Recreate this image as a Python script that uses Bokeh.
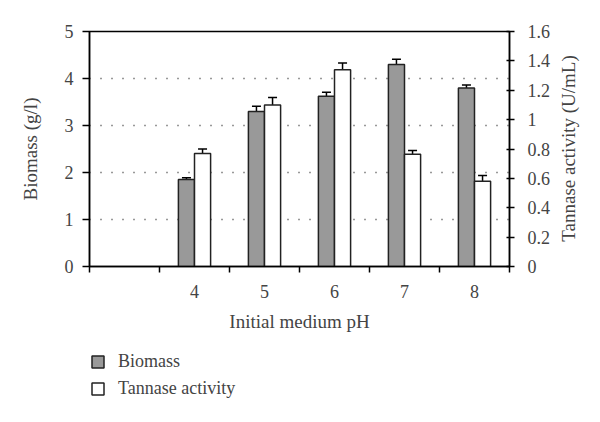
import math
from bokeh.plotting import figure
from bokeh.layouts import column
from bokeh.models import (Range1d, LinearAxis, FixedTicker, Whisker, TeeHead,
                          ColumnDataSource, Legend, LegendItem, Label)
from bokeh.embed import file_html
from bokeh.resources import INLINE

# ---- data ----
ph_labels = ["4", "5", "6", "7", "8"]
biomass = [1.85, 3.30, 3.62, 4.30, 3.80]
biomass_err = [0.04, 0.11, 0.09, 0.11, 0.06]
tannase = [0.77, 1.10, 1.34, 0.765, 0.58]
tannase_err = [0.03, 0.05, 0.045, 0.025, 0.04]
left_ticks = [0, 1, 2, 3, 4, 5]
right_ticks = [0, 0.2, 0.4, 0.6, 0.8, 1.0, 1.2, 1.4, 1.6]
right_tick_labels = ["0", "0.2", "0.4", "0.6", "0.8", "1", "1.2", "1.4", "1.6"]
series_names = ["Biomass", "Tannase activity"]
right_title = "Tannase activity (U/mL)"

FONT = "Liberation Serif"
BAR_W = 0.23
BIO_FILL = "#999999"
TAN_FILL = "white"
EDGE = "#222222"

# category positions: slot 0 is an empty category, pH values follow
pos = [i + 1 for i in range(len(ph_labels))]
src = ColumnDataSource(dict(
    xb=[p - BAR_W / 2 for p in pos],
    xt=[p + BAR_W / 2 for p in pos],
    bio=biomass,
    bio_lo=[v - e for v, e in zip(biomass, biomass_err)],
    bio_hi=[v + e for v, e in zip(biomass, biomass_err)],
    tan=tannase,
    tan_lo=[v - e for v, e in zip(tannase, tannase_err)],
    tan_hi=[v + e for v, e in zip(tannase, tannase_err)],
))

p = figure(width=584, height=340, output_backend="svg", toolbar_location=None,
           x_range=Range1d(-0.5, len(ph_labels) + 0.5), y_range=Range1d(0, 5),
           min_border_left=89, min_border_right=75, min_border_top=31,
           min_border_bottom=74)
p.extra_y_ranges = {"t": Range1d(0, 1.6)}
p.outline_line_color = "black"
p.outline_line_width = 1.5
p.background_fill_color = "white"
p.border_fill_color = "white"

# x axis
xa = p.xaxis[0]
xa.ticker = FixedTicker(ticks=pos, minor_ticks=[i - 0.5 for i in range(len(ph_labels) + 2)])
xa.major_label_overrides = {pp: lab for pp, lab in zip(pos, ph_labels)}
xa.major_tick_out = 0
xa.major_tick_in = 0
xa.minor_tick_out = 6
xa.minor_tick_in = 0
xa.minor_tick_line_color = "black"
xa.minor_tick_line_width = 1.5
xa.axis_line_width = 1.5
xa.axis_label = "Initial medium pH"
xa.axis_label_text_font = FONT
xa.axis_label_text_font_size = "19px"
xa.axis_label_text_font_style = "normal"
xa.axis_label_standoff = 10
xa.major_label_text_font = FONT
xa.major_label_text_font_size = "18px"
xa.major_label_standoff = 12

# left y axis
ya = p.yaxis[0]
ya.ticker = FixedTicker(ticks=left_ticks)
ya.minor_tick_line_color = None
ya.major_tick_out = 7
ya.major_tick_in = 0
ya.major_tick_line_width = 1.5
ya.axis_line_width = 1.5
ya.axis_label = "Biomass (g/l)"
ya.axis_label_text_font = FONT
ya.axis_label_text_font_size = "19px"
ya.axis_label_text_font_style = "normal"
ya.axis_label_standoff = 21
ya.major_label_text_font = FONT
ya.major_label_text_font_size = "18px"
ya.major_label_standoff = 9

# right y axis
ra = LinearAxis(y_range_name="t", ticker=FixedTicker(ticks=right_ticks))
ra.major_label_overrides = {t: lab for t, lab in zip(right_ticks, right_tick_labels)}
ra.minor_tick_line_color = None
ra.major_tick_out = 5
ra.major_tick_in = 3
ra.major_tick_line_width = 1.5
ra.axis_line_width = 1.5
ra.major_label_text_font = FONT
ra.major_label_text_font_size = "18px"
ra.major_label_standoff = 13
p.add_layout(ra, "right")

# right axis title, reading bottom-to-top (placed in the right side panel)
rlab = Label(text=right_title, x=15, y=118, x_units="screen", y_units="screen",
             angle=math.pi / 2, text_align="center", text_baseline="middle",
             text_font=FONT, text_font_size="19px", text_color="#444444")
p.add_layout(rlab, "right")

# grid
p.xgrid.grid_line_color = None
p.ygrid.ticker = FixedTicker(ticks=left_ticks[1:-1])
p.ygrid.grid_line_color = "#333333"
p.ygrid.grid_line_dash = "1 10"
p.ygrid.grid_line_width = 1.5

# bars
rb = p.vbar(x="xb", top="bio", width=BAR_W, bottom=0, source=src,
            fill_color=BIO_FILL, line_color=EDGE, line_width=1.5)
rt = p.vbar(x="xt", top="tan", width=BAR_W, bottom=0, source=src, y_range_name="t",
            fill_color=TAN_FILL, line_color=EDGE, line_width=1.5)

# error bars
def tee():
    return TeeHead(size=9, line_width=1.5, line_color="black")

wb = Whisker(base="xb", lower="bio_lo", upper="bio_hi", source=src,
             line_color="black", line_width=1.5, upper_head=tee(), lower_head=tee())
wt = Whisker(base="xt", lower="tan_lo", upper="tan_hi", source=src, y_range_name="t",
             line_color="black", line_width=1.5, upper_head=tee(), lower_head=tee())
p.add_layout(wb)
p.add_layout(wt)

# legend strip below the chart (same series, hidden; only the legend shows)
lg = figure(width=584, height=80, output_backend="svg", toolbar_location=None,
            x_range=Range1d(-100, -99), y_range=Range1d(-100, -99),
            x_axis_type=None, y_axis_type=None,
            min_border_left=0, min_border_right=0, min_border_top=0, min_border_bottom=0)
lg.outline_line_color = None
lg.background_fill_color = None
lg.border_fill_color = None
lg.xgrid.grid_line_color = None
lg.ygrid.grid_line_color = None
lb = lg.vbar(x="xb", top="bio", width=BAR_W, source=src,
             fill_color=BIO_FILL, line_color=EDGE, line_width=1.5)
lt = lg.vbar(x="xt", top="tan", width=BAR_W, source=src,
             fill_color=TAN_FILL, line_color=EDGE, line_width=1.5)
lb.visible = False
lt.visible = False
legend = Legend(items=[LegendItem(label=series_names[0], renderers=[lb]),
                       LegendItem(label=series_names[1], renderers=[lt])],
                location=(1, 21), orientation="vertical",
                label_text_font=FONT, label_text_font_size="18px",
                glyph_width=15, glyph_height=15, label_standoff=13,
                label_height=20, spacing=6, padding=0, margin=0,
                border_line_color=None, background_fill_alpha=0)
lg.add_layout(legend, "center")

layout = column(p, lg, spacing=0)
open("out.html", "w").write(file_html(layout, INLINE))
